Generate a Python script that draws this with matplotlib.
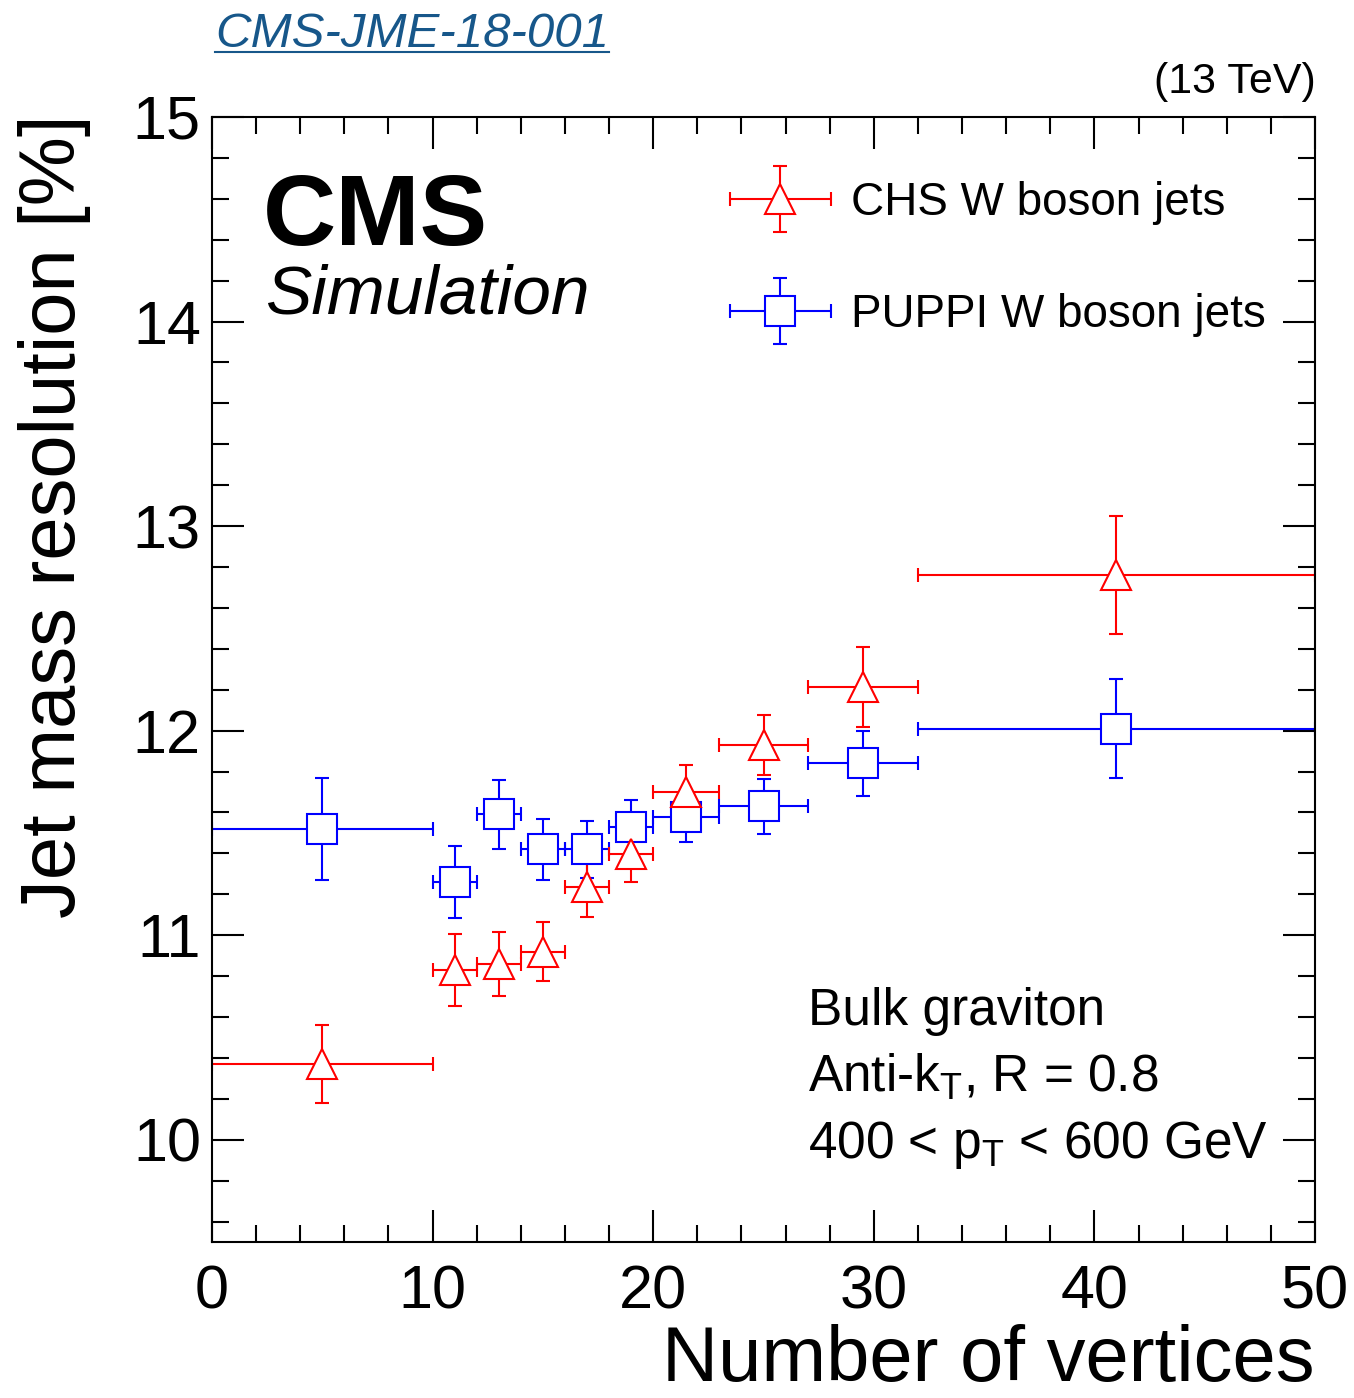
import matplotlib
matplotlib.use("Agg")
import matplotlib.pyplot as plt
from matplotlib.ticker import MultipleLocator
from matplotlib.lines import Line2D
from matplotlib.legend_handler import HandlerErrorbar
from matplotlib.container import ErrorbarContainer

plt.rcParams['font.family'] = ['Liberation Sans', 'DejaVu Sans']
plt.rcParams['mathtext.fontset'] = 'custom'
plt.rcParams['mathtext.rm'] = 'Liberation Sans'
plt.rcParams['mathtext.it'] = 'Liberation Sans:italic'

# number of vertices bins (centre and half width)
nvtx = [5, 11, 13, 15, 17, 19, 21.5, 25, 29.5, 41]
nvtx_halfwidth = [5, 1, 1, 1, 1, 1, 1.5, 2, 2.5, 9]

# jet mass resolution [%]
chs_res = [10.37, 10.83, 10.86, 10.92, 11.235, 11.395, 11.70, 11.93, 12.215, 12.76]
chs_err = [0.19, 0.175, 0.155, 0.145, 0.145, 0.135, 0.13, 0.145, 0.195, 0.29]
puppi_res = [11.52, 11.26, 11.59, 11.42, 11.42, 11.53, 11.58, 11.63, 11.84, 12.01]
puppi_err = [0.25, 0.175, 0.17, 0.15, 0.14, 0.13, 0.125, 0.135, 0.16, 0.24]

W, H = 1354, 1398
fig = plt.figure(figsize=(W / 100, H / 100), dpi=100)

def fx(px):
    return px / W

def fy(py):
    return 1 - py / H

ax = fig.add_axes([fx(212), fy(1242), fx(1315) - fx(212), fy(117) - fy(1242)])

style = dict(mfc="white", ms=21, mew=1.5, elinewidth=1.5, capsize=5, capthick=1.5, ls="none")
puppi = ax.errorbar(nvtx, puppi_res, xerr=nvtx_halfwidth, yerr=puppi_err, fmt="s",
                    color="#0000ff", label="PUPPI W boson jets", **style)
chs = ax.errorbar(nvtx, chs_res, xerr=nvtx_halfwidth, yerr=chs_err, fmt="^",
                  color="#ff0000", label="CHS W boson jets", **style)

ax.set_xlim(0, 50)
ax.set_ylim(9.5, 15)
ax.xaxis.set_major_locator(MultipleLocator(10))
ax.xaxis.set_minor_locator(MultipleLocator(2))
ax.yaxis.set_major_locator(MultipleLocator(1))
ax.yaxis.set_minor_locator(MultipleLocator(0.2))
ax.tick_params(which="both", direction="in", top=True, right=True, width=1.5)
ax.tick_params(which="major", length=23)
ax.tick_params(which="minor", length=12)
ax.tick_params(axis="x", labelsize=44, pad=16)
ax.tick_params(axis="y", labelsize=44, pad=8)
for s in ax.spines.values():
    s.set_linewidth(1.5)

# legend: long horizontal bar like ROOT's "LPE" option
ax.legend(handles=[chs, puppi], loc="upper left", bbox_to_anchor=(0.4696, 0.943),
          frameon=False, fontsize=33, borderpad=0, borderaxespad=0,
          handlelength=2.2, handletextpad=0.45, labelspacing=1.48,
          handler_map={ErrorbarContainer: HandlerErrorbar(xerr_size=1.1, yerr_size=0.72)})

# axis titles
fig.text(fx(1315), fy(1381), "Number of vertices", ha="right", va="baseline", fontsize=56)
fig.text(fx(55), fy(114), "Jet mass resolution [%]", ha="center", va="top",
         rotation=90, fontsize=56)

# CMS labels
fig.text(fx(263), fy(245), "CMS", fontsize=73, fontweight="bold", va="baseline")
fig.text(fx(265), fy(313), "Simulation", fontsize=50, style="italic", va="baseline")
fig.text(fx(1316), fy(93), "(13 TeV)", fontsize=31, ha="right", va="baseline")

# info text
fig.text(fx(808), fy(1025), "Bulk graviton", fontsize=37, va="baseline")
fig.text(fx(808), fy(1092), r"Anti-k$_{\mathrm{T}}$, R = 0.8", fontsize=37, va="baseline")
fig.text(fx(808), fy(1158), r"400 < p$_{\mathrm{T}}$ < 600 GeV", fontsize=37, va="baseline")

# link-style tag
tag = fig.text(fx(215), fy(47), "CMS-JME-18-001", fontsize=35.5, style="italic",
               color="#17578a", va="baseline")
fig.canvas.draw()
bb = tag.get_window_extent().transformed(fig.transFigure.inverted())
fig.add_artist(Line2D([bb.x0, bb.x1], [fy(52), fy(52)], color="#17578a", lw=1.5))

fig.savefig("out.png", dpi=100)
